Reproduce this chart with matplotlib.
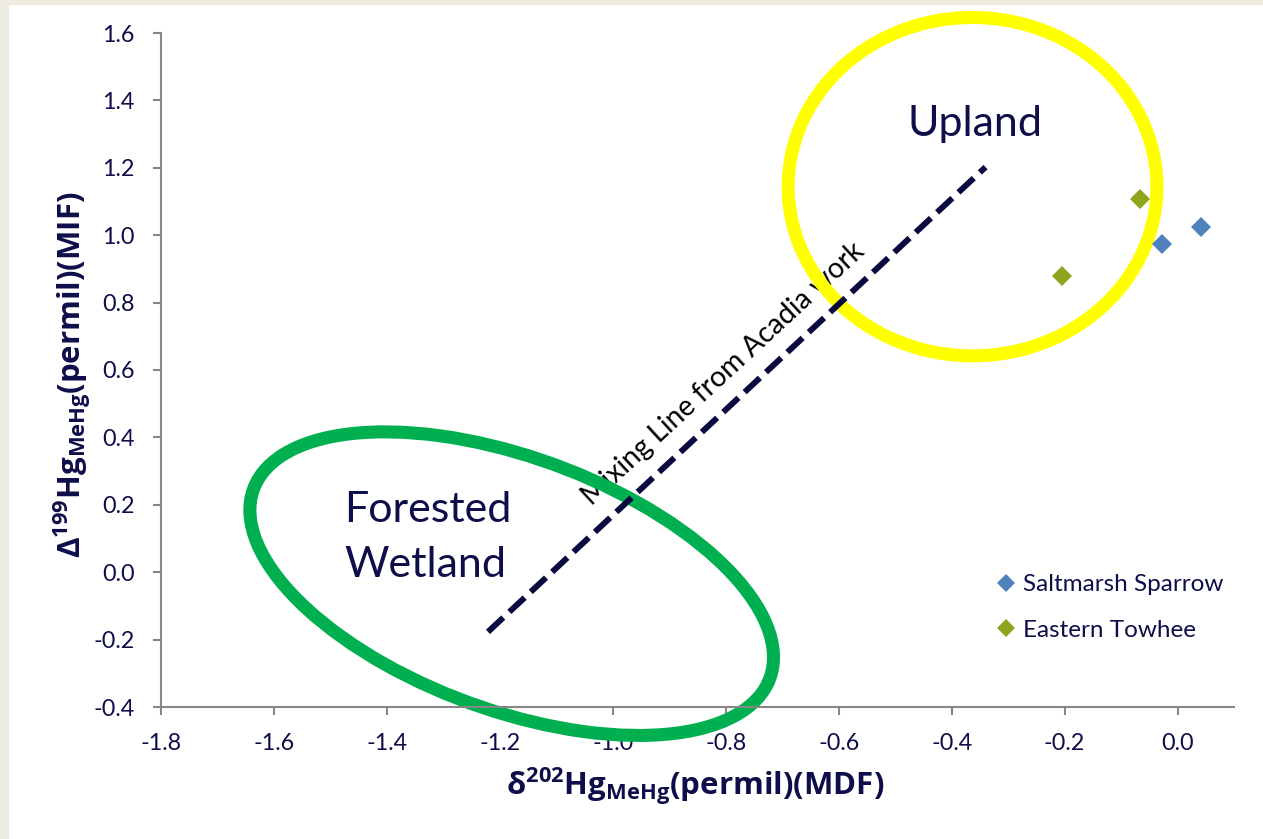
import matplotlib
matplotlib.use("Agg")
import matplotlib.pyplot as plt
from matplotlib.patches import Ellipse, Rectangle

# Hg isotope values for the two bird species
sparrow_x = [-0.027, 0.041]
sparrow_y = [0.973, 1.023]
towhee_x = [-0.204, -0.067]
towhee_y = [0.878, 1.107]

# Mixing line from Acadia work (end points)
mix_x = [-1.221, -0.340]
mix_y = [-0.177, 1.202]

# Source regions: centre, width, height, angle (data units)
upland = dict(center=(-0.363, 1.144), width=0.653, height=1.004, angle=0.0)
wetland = dict(center=(-1.179, -0.034), width=1.114, height=0.656, angle=-43.3)

x_ticks = [-1.8, -1.6, -1.4, -1.2, -1.0, -0.8, -0.6, -0.4, -0.2, 0.0]
y_ticks = [-0.4, -0.2, 0.0, 0.2, 0.4, 0.6, 0.8, 1.0, 1.2, 1.4, 1.6]

NAVY = "#0E0E4A"
plt.rcParams["font.family"] = ["Lato", "DejaVu Sans"]
plt.rcParams["mathtext.fontset"] = "custom"
plt.rcParams["mathtext.bf"] = "Open Sans:bold"
plt.rcParams["mathtext.rm"] = "Open Sans:bold"

fig = plt.figure(figsize=(12.63, 8.39), dpi=100)
fig.patch.set_facecolor("white")
# slide background strips
fig.add_artist(Rectangle((0, 0), 8 / 1263, 1, transform=fig.transFigure,
                         color="#EEECE1", zorder=0))
fig.add_artist(Rectangle((0, 1 - 4 / 839), 1, 4 / 839, transform=fig.transFigure,
                         color="#EEECE1", zorder=0))

ax = fig.add_axes([161 / 1263, 1 - 707 / 839, (1234 - 161) / 1263, (707 - 33) / 839])
ax.set_xlim(-1.8, 0.1)
ax.set_ylim(-0.4, 1.6)
ax.set_xticks(x_ticks)
ax.set_yticks(y_ticks)
ax.set_xticklabels([f"{v:.1f}" for v in x_ticks])
ax.set_yticklabels([f"{v:.1f}" for v in y_ticks])
for s in ["top", "right"]:
    ax.spines[s].set_visible(False)
for s in ["left", "bottom"]:
    ax.spines[s].set_color("#868686")
    ax.spines[s].set_linewidth(1.5)
ax.tick_params(axis="both", direction="out", length=6, width=1.5, color="#868686",
               labelsize=16.8, labelcolor=NAVY, pad=13)

# text labels (drawn beneath the region outlines)
ax.text(-0.804, 0.587, "Mixing Line from Acadia work", rotation=42.7, fontsize=20.4,
        color="black", ha="center", va="center", rotation_mode="anchor", zorder=1)
ax.text(-0.358, 1.33, "Upland", fontsize=31, color=NAVY, ha="center", va="center", zorder=1)
ax.text(-1.327, 0.102, "Forested\nWetland", fontsize=31, color=NAVY, ha="center",
        va="center", multialignment="left", linespacing=1.55, zorder=1)

for reg, col in [(upland, "#FFFF00"), (wetland, "#00B050")]:
    ax.add_patch(Ellipse(reg["center"], reg["width"], reg["height"], angle=reg["angle"],
                         fill=False, edgecolor=col, linewidth=9.4, clip_on=False, zorder=2))

ax.plot(mix_x, mix_y, color="#0A0A40", linewidth=4.3, dashes=(3.5, 1.4),
        solid_capstyle="butt", dash_capstyle="butt", zorder=3)

ax.plot(sparrow_x, sparrow_y, linestyle="none", marker="D", ms=10.2, mew=0,
        color="#4F81BD", label="Saltmarsh Sparrow", zorder=4)
ax.plot(towhee_x, towhee_y, linestyle="none", marker="D", ms=10.2, mew=0,
        color="#8EA41C", label="Eastern Towhee", zorder=4)

leg = ax.legend(loc="upper left", bbox_to_anchor=(987 / 1263, 1 - 562 / 839),
                bbox_transform=fig.transFigure, frameon=False, fontsize=17.5,
                handlelength=0.55, handletextpad=0.42, labelspacing=1.02, markerscale=0.85,
                borderpad=0)
for t in leg.get_texts():
    t.set_color(NAVY)

fig.text(695 / 1263, 1 - 786 / 839,
         r"δ$^{\mathbf{202}}$Hg$_{\mathbf{MeHg}}$(permil)(MDF)",
         fontsize=22.5, fontweight="bold", family="Open Sans", color=NAVY,
         ha="center", va="center")
fig.text(72 / 1263, 1 - 375 / 839,
         r"Δ$^{\mathbf{199}}$Hg$_{\mathbf{MeHg}}$(permil)(MIF)",
         fontsize=22.5, fontweight="bold", family="Open Sans", color=NAVY,
         ha="center", va="center", rotation=90)

fig.savefig("out.png", dpi=100, facecolor="white")
